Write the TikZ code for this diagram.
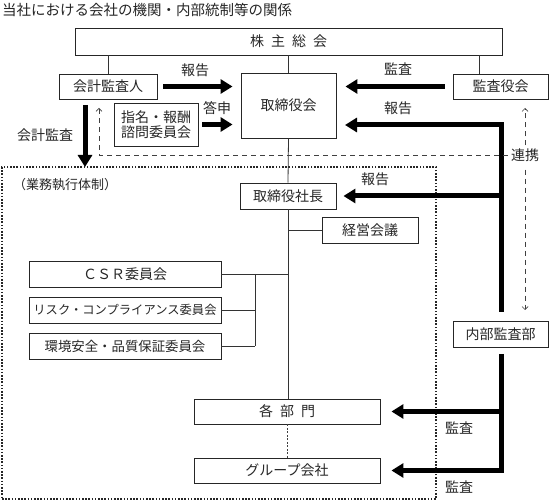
\documentclass[tikz,border=0pt]{standalone}
\usepackage{fontspec}
\setmainfont{Noto Sans CJK JP}
\usetikzlibrary{arrows.meta}
\begin{document}
\begin{tikzpicture}[x=1pt,y=-1pt,
 box/.style={draw=black!85, line width=0.9pt, inner sep=0pt, font=\fontsize{14}{15}\selectfont, text=black!85},
 lab/.style={font=\fontsize{14}{15}\selectfont, inner sep=1pt, text=black!85},
 thin/.style={draw=black!80, line width=0.8pt},
 bigarrow/.style={line width=5pt, -{Triangle[length=12pt,width=14pt]}},
 dasharrow/.style={draw=black!75, line width=0.7pt, dash pattern=on 5pt off 4pt, -{Straight Barb[length=3pt,width=6pt]}},
 dashline/.style={draw=black!75, line width=0.7pt, dash pattern=on 5pt off 4pt},
]
\useasboundingbox (0,0) rectangle (549,502);

\node[lab, anchor=west, font=\fontsize{14.5}{16}\selectfont] (title) at (1,10) {当社における会社の機関・内部統制等の関係};

% execution frame
\node[draw=black!85, line width=1.6pt, dash pattern=on 1.6pt off 1.6pt, minimum width=434pt, minimum height=332pt, inner sep=0pt] (exec) at (219,333) {};
\node[lab, anchor=west, font=\fontsize{13}{14}\selectfont] (execlab) at (12,185) {（業務執行体制）};

% boxes
\node[box, minimum width=427pt, minimum height=27pt] (kabu) at (288.5,41.5) {株\hspace{.5em}主\hspace{.5em}総\hspace{.5em}会};
\node[box, minimum width=98pt, minimum height=25pt] (kaikei) at (108,86.5) {会計監査人};
\node[box, minimum width=95pt, minimum height=65pt] (tori) at (288.5,105.5) {取締役会};
\node[box, minimum width=84pt, minimum height=43pt, align=center] (shimei) at (156,124.5) {指名・報酬\\諮問委員会};
\node[box, minimum width=95pt, minimum height=25pt] (kansayaku) at (500.5,86.5) {監査役会};
\node[box, minimum width=96pt, minimum height=26pt] (shacho) at (288,196) {取締役社長};
\node[box, minimum width=96pt, minimum height=26pt] (keiei) at (370,230) {経営会議};
\node[box, minimum width=192pt, minimum height=26pt] (csr) at (125,274) {ＣＳＲ委員会};
\node[box, minimum width=192pt, minimum height=26pt, font=\fontsize{12.3}{14}\selectfont] (risk) at (125,310) {リスク・コンプライアンス委員会};
\node[box, minimum width=192pt, minimum height=26pt, font=\fontsize{13.4}{14}\selectfont] (kankyo) at (125,346) {環境安全・品質保証委員会};
\node[box, minimum width=95pt, minimum height=26pt] (naibu) at (500.5,334) {内部監査部};
\node[box, minimum width=186pt, minimum height=25pt] (bumon) at (287,411.5) {各\hspace{.5em}部\hspace{.5em}門};
\node[box, minimum width=186pt, minimum height=25pt] (group) at (287,470.5) {グループ会社};

% thin connectors
\draw[thin] (kaikei.north) -- (kaikei.north |- kabu.south);
\draw[thin] (tori.north) -- (tori.north |- kabu.south);
\draw[thin] ([xshift=-21.5pt]kansayaku.north) -- ([xshift=-21.5pt]kansayaku.north |- kabu.south);
\draw[thin] (tori.south) -- (shacho.north);
\draw[thin] (shacho.south) -- (shacho.south |- bumon.north);
\draw[thin] (keiei.west) -- (keiei.west -| shacho.south);
\draw[thin] (csr.east) -- (csr.east -| shacho.south);
\coordinate (bus) at (255,0);
\draw[thin] (risk.east) -- (risk.east -| bus);
\draw[thin] (kankyo.east) -- (kankyo.east -| bus);
\draw[thin] (csr.east -| bus) -- (kankyo.east -| bus);
\draw[draw=black!75, line width=0.8pt, dash pattern=on 2pt off 1.5pt] (bumon.south) -- (bumon.south |- group.north);

% thick arrows top
\draw[bigarrow] ([xshift=6pt]kaikei.east) -- ([xshift=-8pt]tori.west |- kaikei.east);
\node[lab] (l1) at (195,70) {報告};
\draw[bigarrow] ([xshift=4pt]shimei.east) -- ([xshift=-8pt]tori.west |- shimei.east);
\node[lab] (l2) at (217,108) {答申};
\draw[bigarrow] ([xshift=-8pt]kansayaku.west) -- ([xshift=9pt]tori.east |- kansayaku.west);
\node[lab] (l3) at (398,69) {監査};

\coordinate (ntop) at (501,312);
\coordinate (hk) at (345,125);
\draw[bigarrow] (ntop) |- (hk);
\node[lab] (l4) at (398,108) {報告};
\draw[bigarrow] (ntop |- shacho.east) -- ([xshift=7pt]shacho.east);
\node[lab] (l5) at (375,179) {報告};

\coordinate (kaA) at (85,105);
\coordinate (kaB) at (85,167);
\draw[bigarrow] (kaA) -- (kaB);
\node[lab] (l6) at (45,135) {会計監査};

% bottom thick arrows
\coordinate (nbot) at (501,354);
\draw[bigarrow] (nbot) |- ([xshift=11pt]group.east);
\draw[bigarrow] (nbot |- bumon.east) -- ([xshift=11pt]bumon.east);
\node[lab] (l7) at (459,428) {監査};
\node[lab] (l8) at (459,487) {監査};

% dashed liaison
\node[lab, inner sep=3pt] (renkei) at (525,155) {連携};
\coordinate (tk) at (525,108);
\coordinate (tn) at (525,310);
\coordinate (ta) at (99,108);
\draw[dasharrow] (renkei.north) -- (tk);
\draw[dasharrow] ([yshift=-5pt]renkei.south) -- (tn);
\draw[dasharrow] (renkei.west) -| (ta);
\end{tikzpicture}
\end{document}
